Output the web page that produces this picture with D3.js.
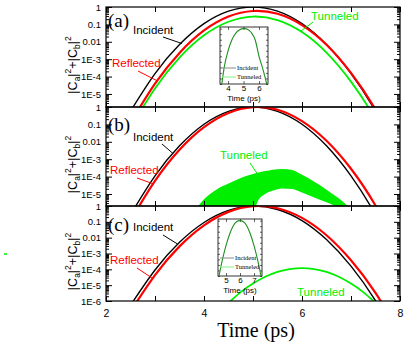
<!DOCTYPE html>
<html>
<head>
<meta charset="utf-8">
<script src="https://cdn.jsdelivr.net/npm/d3@7"></script>
<style>
  body { margin: 0; background: #fff; }
  svg { display: block; }
</style>
</head>
<body>
<div id="chart"></div>
<script>
// time grid (ps); values are log10(|Ca|^2+|Cb|^2)
const tMain = [2.5, 3, 3.5, 4, 4.5, 5, 5.5, 6, 6.5, 7, 7.5, 8];

const incidentA  = [-5.99, -3.83, -2.16, -0.96, -0.24, 0, -0.24, -0.96, -2.16, -3.83, -5.99, -8.62];
const reflectedA = [-6.66, -4.41, -2.64, -1.35, -0.55, -0.23, -0.39, -1.04, -2.17, -3.79, -5.89, -8.47];
const tunneledA  = [-6.94, -4.68, -2.91, -1.63, -0.85, -0.55, -0.75, -1.44, -2.62, -4.29, -6.45, -9.1];

const incidentB  = [-6.19, -3.96, -2.23, -0.99, -0.25, 0, -0.25, -0.99, -2.23, -3.96, -6.19, -8.91];
const reflectedB = [-6.53, -4.25, -2.46, -1.16, -0.34, -0.01, -0.16, -0.81, -1.94, -3.55, -5.66, -8.25];

// tunneled signal in (b) oscillates fast: upper and lower envelopes of the filled band
const tBand      = [3.75, 4, 4.25, 4.5, 4.75, 5, 5.1, 5.25, 5.4, 5.6, 5.8, 6, 6.25, 6.5, 6.75, 7, 7.1];
const bandUpperB = [-6.2, -5.3, -4.75, -4.4, -4.08, -3.85, -3.78, -3.68, -3.6, -3.56, -3.62, -3.9, -4.3, -4.75, -5.25, -5.85, -6.1];
const bandLowerB = [-7, -7, -7, -7, -7, -6.2, -5.4, -5.0, -4.82, -4.68, -4.72, -4.92, -5.2, -5.48, -5.78, -6.1, -6.3];

const incidentC  = [-6.27, -4.04, -2.29, -1.04, -0.28, 0, -0.22, -0.92, -2.12, -3.80, -5.98, -8.64];
const reflectedC = [-6.66, -4.36, -2.55, -1.22, -0.37, -0.01, -0.14, -0.75, -1.85, -3.43, -5.49, -8.05];
const tTunC      = [4.5, 4.75, 5, 5.25, 5.5, 5.75, 6, 6.25, 6.5, 6.75, 7, 7.25, 7.5];
const tunneledC  = [-6.12, -5.44, -4.90, -4.47, -4.16, -3.98, -3.92, -3.98, -4.16, -4.47, -4.90, -5.44, -6.12];

// insets: normalised probability (linear)
const tInsetA   = [3.6, 3.75, 4, 4.25, 4.5, 4.75, 5, 5.1, 5.25, 5.5, 5.75, 6, 6.25, 6.5];
const insetValA = [0, 0.3, 0.6, 0.8, 0.92, 0.98, 1.0, 1.0, 0.99, 0.93, 0.8, 0.5, 0.27, 0];
const tInsetC   = [4.5, 4.75, 5, 5.25, 5.5, 5.75, 6, 6.25, 6.5, 6.75, 7, 7.25, 7.5];
const insetValC = [0, 0.3, 0.55, 0.75, 0.9, 0.98, 1.0, 0.98, 0.9, 0.75, 0.55, 0.3, 0];

const xTickValues = [2, 3, 4, 5, 6, 7, 8];
const xTickLabels = ["2", "", "4", "", "6", "", "8"];
const legendNames = ["Incident", "Tunneled"];

const RED = "#ff0000", GREEN = "#00ee00";

const width = 407, height = 343;
const svg = d3.select("#chart").append("svg")
    .attr("width", width)
    .attr("height", height)
    .style("font-family", "Arial, 'Liberation Sans', sans-serif");

const x = d3.scaleLinear().domain([2, 8]).range([106, 400]);

const panels = [
    { name: "(a)", top: 7, bottom: 107, logMin: -5.75,
      lines: [[tMain, incidentA, "#000", 1.4], [tMain, reflectedA, RED, 2.2], [tMain, tunneledA, GREEN, 1.8]],
      notes: [
        { text: "Incident", color: "#000", lx: 133, ly: 34, from: [163, 37], t: 3.55, v: -2.1 },
        { text: "Reflected", color: RED, lx: 112, ly: 67, from: [138, 71], t: 3.05, v: -4.25 },
        { text: "Tunneled", color: GREEN, lx: 311, ly: 20, from: [313, 22], t: 5.97, v: -1.4 }
      ], labelY: 27 },
    { name: "(b)", top: 107, bottom: 206, logMin: -5.69,
      lines: [[tMain, incidentB, "#000", 1.4], [tMain, reflectedB, RED, 2.2]],
      band: [tBand, bandLowerB, bandUpperB],
      notes: [
        { text: "Incident", color: "#000", lx: 133, ly: 141, from: [162, 144], t: 3.37, v: -2.68 },
        { text: "Reflected", color: RED, lx: 110, ly: 174, from: [137, 178], t: 2.97, v: -4.42 },
        { text: "Tunneled", color: GREEN, lx: 220, ly: 159, from: [250, 163], t: 5.08, v: -3.8 }
      ], labelY: 131 },
    { name: "(c)", top: 206, bottom: 301, logMin: -6,
      lines: [[tMain, incidentC, "#000", 1.4], [tMain, reflectedC, RED, 2.2], [tTunC, tunneledC, GREEN, 1.8]],
      notes: [
        { text: "Incident", color: "#000", lx: 133, ly: 231, from: [163, 235], t: 3.46, v: -2.4 },
        { text: "Reflected", color: RED, lx: 110, ly: 264, from: [137, 268], t: 2.94, v: -4.55 },
        { text: "Tunneled", color: GREEN, lx: 297, ly: 296 }
      ], labelY: 231, xLabels: true }
];

function logFmt(d) {
    const e = Math.round(Math.log10(d));
    if (e === 0) return "1";
    if (e === -1) return "0.1";
    if (e === -2) return "0.01";
    return "1E" + e;
}

panels.forEach((p, i) => {
    const y = d3.scaleLog().domain([Math.pow(10, p.logMin), 1]).range([p.bottom, p.top]);
    const clipId = "clip" + i;
    svg.append("clipPath").attr("id", clipId)
        .append("rect")
        .attr("x", x.range()[0]).attr("y", p.top)
        .attr("width", x.range()[1] - x.range()[0]).attr("height", p.bottom - p.top);

    const g = svg.append("g").attr("clip-path", `url(#${clipId})`);

    if (p.band) {
        const [ts, lo, hi] = p.band;
        g.append("path")
            .datum(ts.map((t, k) => ({ t, lo: lo[k], hi: hi[k] })))
            .attr("fill", GREEN)
            .attr("d", d3.area()
                .x(d => x(d.t))
                .y0(d => y(Math.pow(10, d.lo)))
                .y1(d => y(Math.pow(10, d.hi)))
                .curve(d3.curveMonotoneX));
    }

    p.lines.forEach(([ts, vs, color, w]) => {
        g.append("path")
            .datum(ts.map((t, k) => [t, vs[k]]))
            .attr("fill", "none")
            .attr("stroke", color)
            .attr("stroke-width", w)
            .attr("d", d3.line()
                .x(d => x(d[0]))
                .y(d => y(Math.pow(10, d[1])))
                .curve(d3.curveNatural));
    });

    // log ticks
    const majors = [], minors = [];
    for (let e = 0; e >= -6; e--) {
        if (e >= p.logMin - 1e-9) majors.push(Math.pow(10, e));
        for (let k = 2; k <= 9; k++) {
            const v = k * Math.pow(10, e - 1);
            if (Math.log10(v) >= p.logMin && v < 1) minors.push(v);
        }
    }

    const left = svg.append("g").attr("transform", `translate(${x.range()[0]},0)`)
        .call(d3.axisLeft(y).tickValues(majors).tickSize(-6).tickSizeOuter(0).tickPadding(5).tickFormat(logFmt));
    left.append("g").call(d3.axisLeft(y).tickValues(minors).tickSize(-3).tickSizeOuter(0).tickFormat(""));
    left.selectAll(".domain").remove();
    left.selectAll("text").attr("font-size", 9.5).attr("font-family", "Arial, 'Liberation Sans', sans-serif");

    const right = svg.append("g").attr("transform", `translate(${x.range()[1]},0)`)
        .call(d3.axisRight(y).tickValues(majors).tickSize(-6).tickSizeOuter(0).tickFormat(""));
    right.append("g").call(d3.axisRight(y).tickValues(minors).tickSize(-3).tickSizeOuter(0).tickFormat(""));
    right.selectAll(".domain").remove();

    const bottom = svg.append("g").attr("transform", `translate(0,${p.bottom})`)
        .call(d3.axisBottom(x).tickValues(xTickValues).tickSize(-5).tickSizeOuter(0).tickPadding(9)
            .tickFormat((d, k) => p.xLabels ? xTickLabels[k] : ""));
    bottom.selectAll(".domain").remove();
    bottom.selectAll("text").attr("font-size", 10.5).attr("font-family", "Arial, 'Liberation Sans', sans-serif");

    const top = svg.append("g").attr("transform", `translate(0,${p.top})`)
        .call(d3.axisTop(x).tickValues(xTickValues).tickSize(-5).tickSizeOuter(0).tickFormat(""));
    top.selectAll(".domain").remove();

    svg.append("rect")
        .attr("x", x.range()[0]).attr("y", p.top)
        .attr("width", x.range()[1] - x.range()[0]).attr("height", p.bottom - p.top)
        .attr("fill", "none").attr("stroke", "#000").attr("stroke-width", 1.2);

    // panel tag
    svg.append("text")
        .attr("x", 108).attr("y", p.labelY)
        .attr("font-family", "'Liberation Serif', 'DejaVu Serif', serif")
        .attr("font-size", 19)
        .text(p.name);

    // curve names with leader lines
    p.notes.forEach(n => {
        svg.append("text")
            .attr("x", n.lx).attr("y", n.ly)
            .attr("fill", n.color)
            .attr("font-size", 11.5)
            .text(n.text);
        if (n.from) {
            svg.append("line")
                .attr("x1", n.from[0]).attr("y1", n.from[1])
                .attr("x2", x(n.t)).attr("y2", y(Math.pow(10, n.v)))
                .attr("stroke", n.color)
                .attr("stroke-width", 1);
        }
    });

    // y title
    const cy = (p.top + p.bottom) / 2 + 8;
    const yt = svg.append("text")
        .attr("transform", `translate(77,${cy}) rotate(-90)`)
        .attr("text-anchor", "middle")
        .attr("font-size", 12.5);
    yt.append("tspan").text("|C");
    yt.append("tspan").attr("font-size", 8.5).attr("dy", 3).text("a");
    yt.append("tspan").attr("dy", -3).text("|");
    yt.append("tspan").attr("font-size", 8.5).attr("dy", -6).text("2");
    yt.append("tspan").attr("dy", 6).text("+|C");
    yt.append("tspan").attr("font-size", 8.5).attr("dy", 3).text("b");
    yt.append("tspan").attr("dy", -3).text("|");
    yt.append("tspan").attr("font-size", 8.5).attr("dy", -6).text("2");
});

// x title
svg.append("text")
    .attr("x", 256).attr("y", 337)
    .attr("text-anchor", "middle")
    .attr("font-family", "'Liberation Serif', 'DejaVu Serif', serif")
    .attr("font-size", 20)
    .text("Time (ps)");

// insets
function drawInset(box, dom, ticks, ts, vs, legendY) {
    const xi = d3.scaleLinear().domain(dom).range([box.x0, box.x1]);
    const yi = d3.scaleLinear().domain([0, 1.03]).range([box.y1, box.y0]);
    svg.append("rect")
        .attr("x", box.x0).attr("y", box.y0)
        .attr("width", box.x1 - box.x0).attr("height", box.y1 - box.y0)
        .attr("fill", "#fff").attr("stroke", "#000").attr("stroke-width", 0.8);

    const yMinor = d3.range(0, 1.01, 0.1);
    const l = svg.append("g").attr("transform", `translate(${box.x0},0)`)
        .call(d3.axisLeft(yi).tickValues(yMinor).tickSize(-2).tickSizeOuter(0).tickFormat(""));
    const r = svg.append("g").attr("transform", `translate(${box.x1},0)`)
        .call(d3.axisRight(yi).tickValues(yMinor).tickSize(-2).tickSizeOuter(0).tickFormat(""));
    const b = svg.append("g").attr("transform", `translate(0,${box.y1})`)
        .call(d3.axisBottom(xi).tickValues(ticks).tickSize(-3).tickSizeOuter(0).tickPadding(1).tickFormat(d3.format("d")));
    const t = svg.append("g").attr("transform", `translate(0,${box.y0})`)
        .call(d3.axisTop(xi).tickValues(ticks).tickSize(-3).tickSizeOuter(0).tickFormat(""));
    [l, r, b, t].forEach(a => {
        a.selectAll(".domain").remove();
        a.selectAll("line").attr("stroke-width", 0.6);
    });
    b.selectAll("text").attr("font-size", 8).attr("font-family", "Arial, 'Liberation Sans', sans-serif");

    svg.append("text")
        .attr("x", (box.x0 + box.x1) / 2).attr("y", box.y1 + 17)
        .attr("text-anchor", "middle")
        .attr("font-size", 8)
        .text("Time (ps)");

    svg.append("path")
        .datum(ts.map((d, k) => [d, vs[k]]))
        .attr("fill", "none")
        .attr("stroke", "#1f8f1f")
        .attr("stroke-width", 1.1)
        .attr("d", d3.line().x(d => xi(d[0])).y(d => yi(d[1])).curve(d3.curveMonotoneX));

    const legendColors = ["#8a8a8a", "#80f080"];
    legendNames.forEach((name, k) => {
        const ly = legendY + k * 9;
        svg.append("line")
            .attr("x1", box.x0 + 2).attr("x2", box.x0 + 16)
            .attr("y1", ly).attr("y2", ly)
            .attr("stroke", legendColors[k]).attr("stroke-width", 1);
        svg.append("text")
            .attr("x", box.x0 + 17).attr("y", ly + 2)
            .attr("font-family", "'Liberation Serif', 'DejaVu Serif', serif")
            .attr("font-size", 6.5)
            .text(name);
    });
}

drawInset({ x0: 220, x1: 268, y0: 27, y1: 84 }, [3.48, 6.58], [4, 5, 6], tInsetA, insetValA, 68);
drawInset({ x0: 218, x1: 262, y0: 219, y1: 276 }, [4.43, 7.57], [5, 6, 7], tInsetC, insetValC, 258);

// stray green mark at far left of the original figure
svg.append("line")
    .attr("x1", 4).attr("x2", 7).attr("y1", 254).attr("y2", 254)
    .attr("stroke", GREEN).attr("stroke-width", 1.5);
</script>
</body>
</html>
